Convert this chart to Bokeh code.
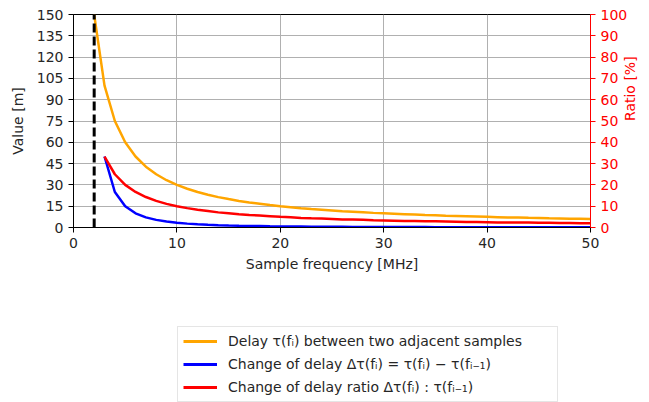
import math
from bokeh.plotting import figure
from bokeh.models import Range1d, LinearAxis, FixedTicker, Legend, LegendItem
from bokeh.layouts import column
from bokeh.embed import file_html
from bokeh.resources import INLINE

# Data
freq = [2, 3, 4, 5, 6, 7, 8, 9, 10, 11, 12, 13, 14, 15, 16, 17, 18, 19, 20,
        21, 22, 23, 24, 25, 26, 27, 28, 29, 30, 31, 32, 33, 34, 35, 36, 37, 38,
        39, 40, 41, 42, 43, 44, 45, 46, 47, 48, 49, 50]
delay = [149.9, 99.9, 75.0, 60.0, 50.0, 42.8, 37.5, 33.3, 30.0, 27.3, 25.0, 23.1,
         21.4, 20.0, 18.7, 17.6, 16.7, 15.8, 15.0, 14.3, 13.6, 13.0, 12.5, 12.0,
         11.5, 11.1, 10.7, 10.3, 10.0, 9.7, 9.4, 9.1, 8.8, 8.6, 8.3, 8.1, 7.9,
         7.7, 7.5, 7.3, 7.1, 7.0, 6.8, 6.7, 6.5, 6.4, 6.2, 6.1, 6.0]
freq_change = freq[1:]
delay_change = [50.0, 25.0, 15.0, 10.0, 7.14, 5.36, 4.17, 3.33, 2.73, 2.27, 1.92,
                1.65, 1.43, 1.25, 1.10, 0.98, 0.88, 0.79, 0.71, 0.65, 0.59, 0.54,
                0.50, 0.46, 0.43, 0.40, 0.37, 0.34, 0.32, 0.30, 0.28, 0.27, 0.25,
                0.24, 0.23, 0.21, 0.20, 0.19, 0.18, 0.17, 0.17, 0.16, 0.15, 0.14,
                0.14, 0.13, 0.13, 0.12]
ratio_pct = [33.3, 25.0, 20.0, 16.7, 14.3, 12.5, 11.1, 10.0, 9.1, 8.3, 7.7, 7.1,
             6.7, 6.25, 5.9, 5.6, 5.3, 5.0, 4.8, 4.5, 4.3, 4.2, 4.0, 3.8, 3.7,
             3.6, 3.4, 3.3, 3.2, 3.1, 3.0, 2.9, 2.9, 2.8, 2.7, 2.6, 2.6, 2.5,
             2.4, 2.4, 2.3, 2.3, 2.2, 2.2, 2.1, 2.1, 2.0, 2.0]
vline_x = [2, 2]
vline_y = [0, 150]
x_ticks = [0, 10, 20, 30, 40, 50]
y_ticks = [0, 15, 30, 45, 60, 75, 90, 105, 120, 135, 150]
r_ticks = [0, 10, 20, 30, 40, 50, 60, 70, 80, 90, 100]
series_labels = ["Delay τ(fᵢ) between two adjacent samples",
                 "Change of delay Δτ(fᵢ) = τ(fᵢ) − τ(fᵢ₋₁)",
                 "Change of delay ratio Δτ(fᵢ) : τ(fᵢ₋₁)"]
series_colors = ["#FFA500", "#0000FF", "#FF0000"]

FONT = "DejaVu Sans"
FS = "14px"

p = figure(width=649, height=290, x_range=Range1d(0, 50), y_range=Range1d(0, 150),
           output_backend="svg", toolbar_location=None,
           min_border_left=73, min_border_right=59, min_border_top=14,
           min_border_bottom=63)
p.extra_y_ranges = {"ratio": Range1d(0, 100)}
p.outline_line_color = "black"
p.outline_line_width = 1

for ax in (p.xaxis[0], p.yaxis[0]):
    ax.major_tick_out = 5
    ax.major_tick_in = 0
    ax.minor_tick_line_color = None
    ax.axis_line_color = "black"
    ax.major_tick_line_color = "black"
    ax.major_label_text_font = FONT
    ax.major_label_text_font_size = FS
    ax.major_label_text_color = "#262626"
    ax.axis_label_text_font = FONT
    ax.axis_label_text_font_size = FS
    ax.axis_label_text_font_style = "normal"
    ax.axis_label_text_color = "#262626"

p.xaxis.ticker = FixedTicker(ticks=x_ticks)
p.yaxis.ticker = FixedTicker(ticks=y_ticks)
p.xaxis.axis_label = "Sample frequency [MHz]"
p.yaxis.axis_label = "Value [m]"
p.xaxis.major_label_standoff = 5
p.yaxis.major_label_standoff = 5
p.xaxis.axis_label_standoff = 5
p.yaxis.axis_label_standoff = 8

p.xgrid.ticker = FixedTicker(ticks=x_ticks)
p.ygrid.ticker = FixedTicker(ticks=y_ticks)
p.grid.grid_line_color = "#b0b0b0"
p.grid.grid_line_width = 1

rax = LinearAxis(y_range_name="ratio", ticker=FixedTicker(ticks=r_ticks),
                 axis_label="Ratio [%]")
rax.axis_line_color = "red"
rax.major_tick_line_color = "red"
rax.major_tick_out = 5
rax.major_tick_in = 0
rax.minor_tick_line_color = None
rax.major_label_text_color = "red"
rax.major_label_text_font = FONT
rax.major_label_text_font_size = FS
rax.major_label_standoff = 5
rax.axis_label_text_color = "red"
rax.axis_label_text_font = FONT
rax.axis_label_text_font_size = FS
rax.axis_label_text_font_style = "normal"
rax.axis_label_standoff = 0
rax.axis_label_orientation = math.pi / 2
p.add_layout(rax, "right")

p.line(freq, delay, line_color=series_colors[0], line_width=2.5)
p.line(freq_change, delay_change, line_color=series_colors[1], line_width=2.5)
p.line(freq_change, ratio_pct, line_color=series_colors[2], line_width=2.5,
       y_range_name="ratio")
p.line(vline_x, vline_y, line_color="black", line_width=3, line_dash="9 4")

# Legend panel below the chart
q = figure(width=649, height=112, x_range=Range1d(0, 1), y_range=Range1d(0, 1),
           output_backend="svg", toolbar_location=None,
           min_border_left=0, min_border_right=0, min_border_top=0,
           min_border_bottom=0)
q.axis.visible = False
q.grid.visible = False
q.outline_line_color = None
items = []
for lab, col in zip(series_labels, series_colors):
    r = q.line([-2, -1], [-2, -1], line_color=col, line_width=3)
    items.append(LegendItem(label=lab, renderers=[r]))

legend = Legend(items=items, location=(104, 0))
legend.label_text_font = FONT
legend.label_text_font_size = FS
legend.label_text_color = "#262626"
legend.label_height = 18
legend.label_width = 324
legend.glyph_height = 18
legend.glyph_width = 34
legend.label_standoff = 11
legend.spacing = 5
legend.padding = 5
legend.margin = 0
legend.border_line_color = "#cccccc"
legend.border_line_width = 1
legend.background_fill_color = "white"
legend.background_fill_alpha = 1
q.add_layout(legend, "center")

open("out.html", "w").write(file_html(column(p, q, spacing=0), INLINE))
